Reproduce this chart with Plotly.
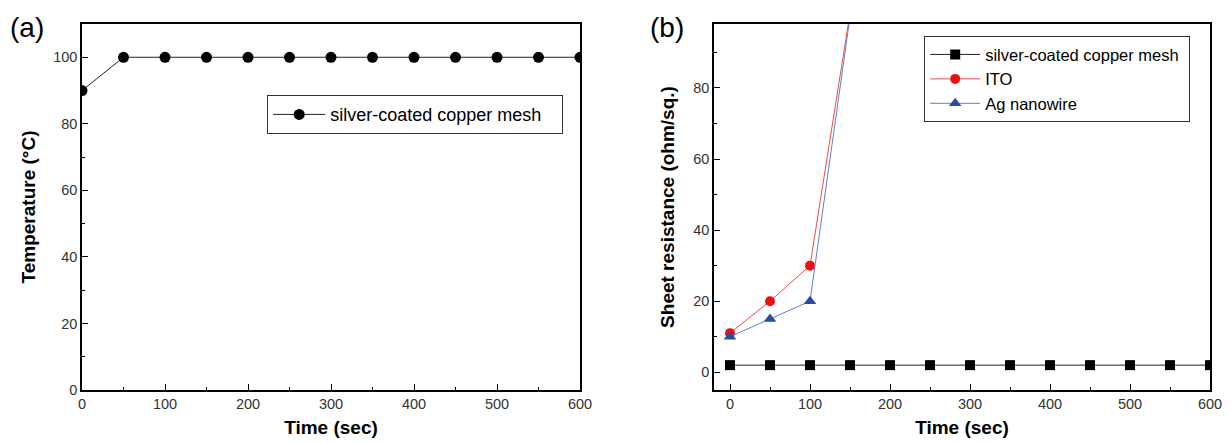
import plotly.graph_objects as go

# ---- data ----
time_a = [0, 50, 100, 150, 200, 250, 300, 350, 400, 450, 500, 550, 600]
temp_mesh = [90, 100, 100, 100, 100, 100, 100, 100, 100, 100, 100, 100, 100]

time_b = [0, 50, 100, 150, 200, 250, 300, 350, 400, 450, 500, 550, 600]
rs_mesh = [2, 2, 2, 2, 2, 2, 2, 2, 2, 2, 2, 2, 2]
time_ito = [0, 50, 100, 150]
rs_ito = [11, 20, 30, 101]
time_agnw = [0, 50, 100, 150]
rs_agnw = [10, 15, 20, 100]

x_ticks = [0, 100, 200, 300, 400, 500, 600]
ya_ticks = [0, 20, 40, 60, 80, 100]
yb_ticks = [0, 20, 40, 60, 80]

FONT = "Liberation Sans, Arial, sans-serif"
OFF = 8  # page body margin
W, H = 1231 - OFF, 443 - OFF
# reference pixel positions (screen coords)
L_A, R_A, L_B, R_B, TOP, BOT = 82, 580, 714, 1210, 24, 390
ML = L_A - OFF
MT = TOP - OFF
MR = 1231 - R_B
MB = 443 - BOT
PW = W - ML - MR
PH = H - MT - MB


def px_x(x):
    return (x - OFF - ML) / PW


def px_y(y):
    return 1 - (y - OFF - MT) / PH


fig = go.Figure()

fig.add_trace(go.Scatter(
    x=time_a, y=temp_mesh, mode="lines+markers", name="silver-coated copper mesh\u00a0\u00a0\u00a0",
    line=dict(color="#222222", width=1),
    marker=dict(symbol="circle", size=11, color="black"),
    xaxis="x", yaxis="y", legend="legend"))

fig.add_trace(go.Scatter(
    x=time_b, y=rs_mesh, mode="lines+markers", name="silver-coated copper mesh\u00a0",
    line=dict(color="#222222", width=1),
    marker=dict(symbol="square", size=10, color="black"),
    xaxis="x2", yaxis="y2", legend="legend2"))
fig.add_trace(go.Scatter(
    x=time_ito, y=rs_ito, mode="lines+markers", name="ITO",
    line=dict(color="#f04848", width=1),
    marker=dict(symbol="circle", size=10, color="#ee1111"),
    xaxis="x2", yaxis="y2", legend="legend2"))
fig.add_trace(go.Scatter(
    x=time_agnw, y=rs_agnw, mode="lines+markers", name="Ag nanowire",
    line=dict(color="#6080c8", width=1),
    marker=dict(symbol="triangle-up", size=11, color="#2a4aa8"),
    xaxis="x2", yaxis="y2", legend="legend2"))

axis_common = dict(
    showline=True, linecolor="black", linewidth=1.5, mirror=True,
    ticks="inside", ticklen=6, tickwidth=1.2, tickcolor="black",
    showgrid=False, zeroline=False, automargin=False,
    tickfont=dict(family=FONT, size=14.5, color="#333333"),
)
minor_x = dict(ticks="inside", ticklen=3, tickwidth=1.2, tickcolor="black", showgrid=False, dtick=50)
minor_y = dict(ticks="inside", ticklen=3, tickwidth=1.2, tickcolor="black", showgrid=False, dtick=10)
title_font = dict(family=FONT, size=19, color="black")

xa_dom = [0, px_x(R_A)]
xb_dom = [px_x(L_B), 1.0]

fig.update_layout(
    width=W, height=H,
    margin=dict(l=ML, r=MR, t=MT, b=MB, autoexpand=False),
    paper_bgcolor="white", plot_bgcolor="white",
    showlegend=True,
    xaxis=dict(domain=xa_dom, range=[0, 600], tickvals=x_ticks, minor=minor_x,
               title=dict(text="<b>Time (sec)</b>", font=title_font, standoff=10),
               anchor="y", **axis_common),
    yaxis=dict(domain=[0, 1], range=[0, 110], tickvals=ya_ticks, minor=minor_y,
               title=dict(text="<b>Temperature (°C)</b>", font=title_font, standoff=12),
               anchor="x", **axis_common),
    xaxis2=dict(domain=xb_dom, range=[-20, 600], tickvals=x_ticks, minor=minor_x,
                title=dict(text="<b>Time (sec)</b>", font=title_font, standoff=10),
                anchor="y2", **axis_common),
    yaxis2=dict(domain=[0, 1], range=[-5, 98], tickvals=yb_ticks, minor=minor_y,
                title=dict(text="<b>Sheet resistance (ohm/sq.)</b>", font=title_font, standoff=14),
                anchor="x2", **axis_common),
    legend=dict(x=px_x(267), y=px_y(95), xanchor="left", yanchor="top",
                bgcolor="white", bordercolor="#333333", borderwidth=1.2,
                font=dict(family=FONT, size=18, color="black"),
                itemwidth=52),
    legend2=dict(x=px_x(924), y=px_y(36), xanchor="left", yanchor="top",
                 bgcolor="white", bordercolor="#333333", borderwidth=1.2,
                 font=dict(family=FONT, size=16.5, color="black"),
                 itemwidth=50, tracegroupgap=0),
    annotations=[
        dict(text="(a)", x=px_x(8), y=px_y(27), xref="paper", yref="paper",
             xanchor="left", yanchor="middle", showarrow=False,
             font=dict(family=FONT, size=28, color="black")),
        dict(text="(b)", x=px_x(648), y=px_y(27), xref="paper", yref="paper",
             xanchor="left", yanchor="middle", showarrow=False,
             font=dict(family=FONT, size=28, color="black")),
    ],
)

fig.write_html("out.html")
